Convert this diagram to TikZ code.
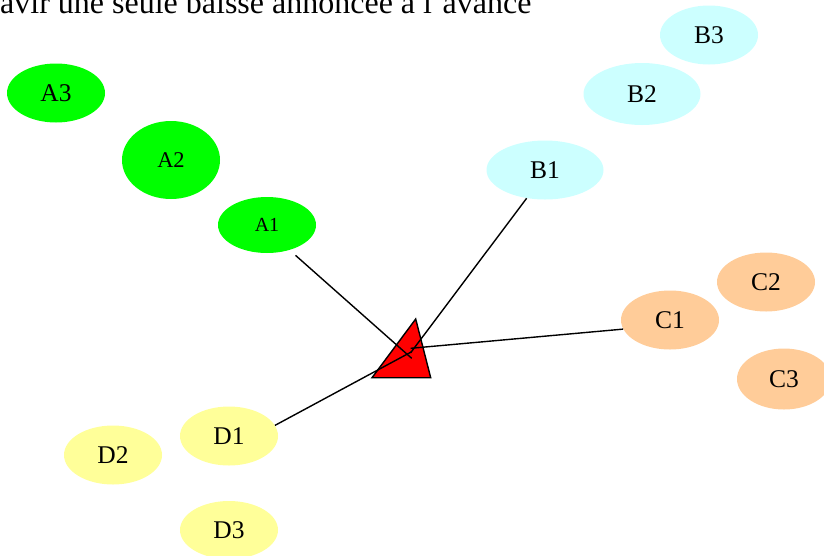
\documentclass[tikz,border=0pt]{standalone}
\usepackage{fontspec}
\setmainfont{Liberation Serif}
\usetikzlibrary{shapes.geometric}
\definecolor{groupa}{HTML}{00FF00}
\definecolor{groupb}{HTML}{CCFFFF}
\definecolor{groupc}{HTML}{FFCC99}
\definecolor{groupd}{HTML}{FFFF99}

\begin{document}
\begin{tikzpicture}[x=1pt, y=-1pt,
		blob/.style={ellipse, inner sep=0pt, minimum width=98pt, minimum height=59pt, font=\fontsize{25.5}{30}\selectfont},
		link/.style={line width=1.4pt}]
			\useasboundingbox (0,0) rectangle (824,555);
			\clip (0,0) rectangle (824,555);
			\node[anchor=base west, inner sep=0pt, font=\fontsize{32}{38}\selectfont] (title) at (0,13) {avir une seule baisse annoncée à l'avance};
			\node[blob, fill=groupa] (A3) at (56,93) {A3};
			\node[blob, fill=groupa, minimum height=78pt, font=\fontsize{22.5}{27}\selectfont] (A2) at (171,160) {A2};
			\node[blob, fill=groupa, minimum height=56pt, font=\fontsize{20}{24}\selectfont] (A1) at (267,225) {A1};
			\node[blob, fill=groupb] (B3) at (709,35) {B3};
			\node[blob, fill=groupb, minimum width=117pt, minimum height=62pt] (B2) at (642,94) {B2};
			\node[blob, fill=groupb, minimum width=117pt] (B1) at (545,170) {B1};
			\node[blob, fill=groupc] (C2) at (766,282) {C2};
			\node[blob, fill=groupc] (C1) at (670,320) {C1};
			\node[blob, fill=groupc, minimum width=94pt, minimum height=61pt] (C3) at (784,379) {C3};
			\node[blob, fill=groupd] (D1) at (229,436) {D1};
			\node[blob, fill=groupd] (D2) at (113,455) {D2};
			\node[blob, fill=groupd, minimum height=58pt] (D3) at (229,530) {D3};
			\filldraw[fill=red, draw=black, line width=1.4pt] (415.7,319) -- (372,377.7) -- (430.7,377.7) -- cycle;
			\coordinate (Ta) at (411.7,358.3);
			\coordinate (Tb) at (410.7,352.7);
			\coordinate (Tc) at (410.7,348.3);
			\coordinate (Td) at (411.7,351.7);
			\draw[link, shorten <=8pt] (A1.-48) -- (Ta);
			\draw[link] (B1.-123) -- (Tb);
			\draw[link] (C1.-169) -- (Tc);
			\draw[link] (D1.13) -- (Td);
		\end{tikzpicture}
\end{document}
